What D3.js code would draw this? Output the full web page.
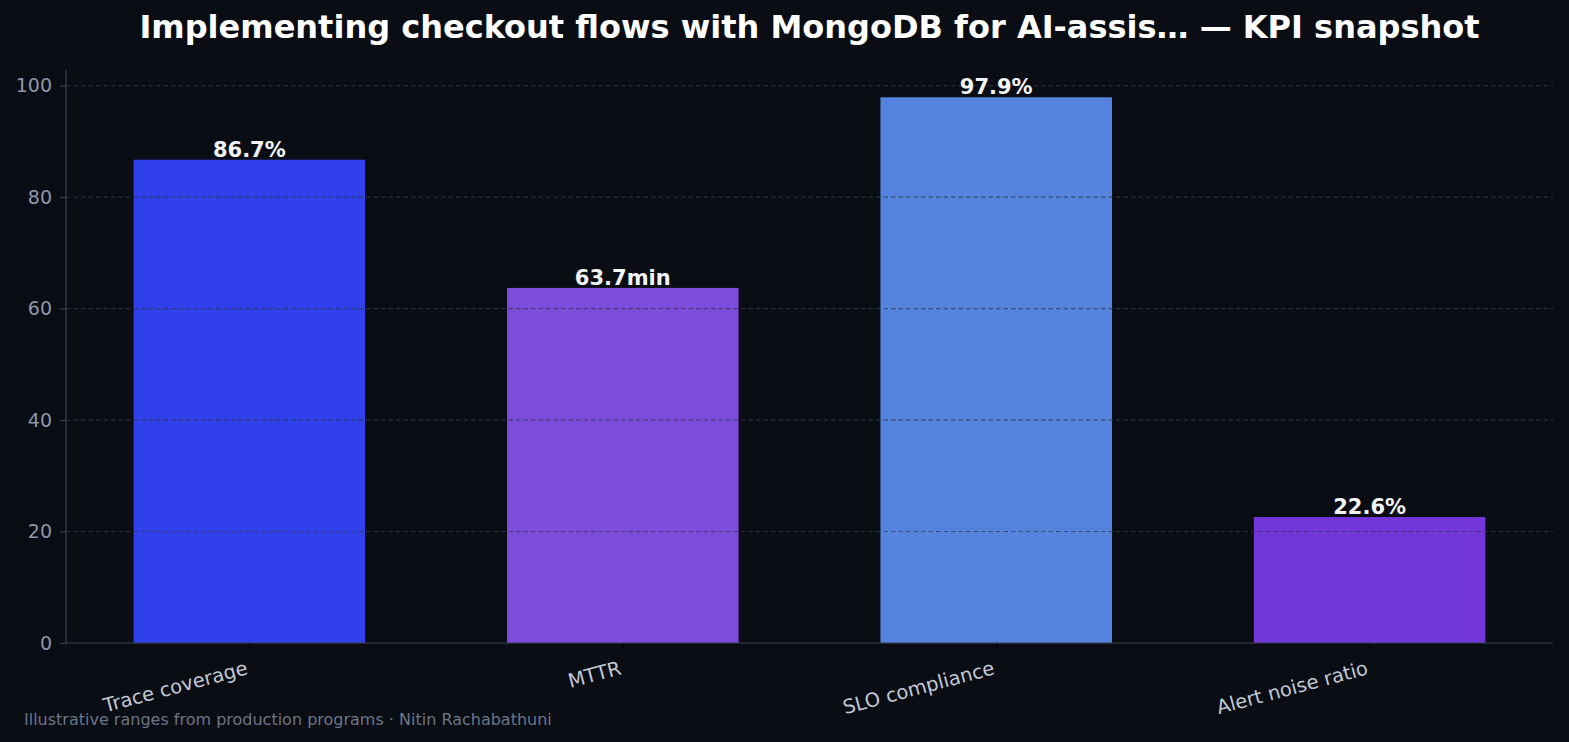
<!DOCTYPE html>
<html lang="en">
<head>
<meta charset="UTF-8">
<title>KPI snapshot</title>
<script src="https://cdn.jsdelivr.net/npm/d3@7"></script>
<style>
    html, body { margin: 0; padding: 0; background: #0a0d14; }
    svg { display: block; font-family: "DejaVu Sans", sans-serif; }
</style>
</head>
<body>
<svg id="chart" width="1569" height="742"></svg>
<script>
    // data
    var categories = ["Trace coverage", "MTTR", "SLO compliance", "Alert noise ratio"];
    var values = [86.7, 63.7, 97.9, 22.6];
    var valueLabels = ["86.7%", "63.7min", "97.9%", "22.6%"];
    var barColors = ["#3040ea", "#7d4cdd", "#5584df", "#7336d9"];
    var yTicks = [0, 20, 40, 60, 80, 100];

    var title = "Implementing checkout flows with MongoDB for AI-assis\u2026 \u2014 KPI snapshot";
    var footer = "Illustrative ranges from production programs \u00b7 Nitin Rachabathuni";

    var svg = d3.select("#chart");
    var plotLeft = 66, plotRight = 1553, plotTop = 70, plotBottom = 643;
    var barW = 0.62;

    var x = d3.scaleLinear()
        .domain([-barW / 2 - 0.181, categories.length - 1 + barW / 2 + 0.181])
        .range([plotLeft, plotRight]);
    var y = d3.scaleLinear()
        .domain([0, d3.max(values) * 1.05])
        .range([plotBottom, plotTop]);

    svg.append("rect").attr("width", 1569).attr("height", 742).attr("fill", "#0a0d14");

    // bars
    svg.selectAll("rect.bar")
        .data(values)
        .enter()
        .append("rect")
        .attr("class", "bar")
        .attr("x", function(d, i) { return x(i - barW / 2); })
        .attr("width", function(d, i) { return x(i + barW / 2) - x(i - barW / 2); })
        .attr("y", function(d) { return y(d); })
        .attr("height", function(d) { return y(0) - y(d); })
        .attr("fill", function(d, i) { return barColors[i]; });

    // grid on top of bars
    svg.selectAll("line.grid")
        .data(yTicks.slice(1))
        .enter()
        .append("line")
        .attr("class", "grid")
        .attr("x1", plotLeft).attr("x2", plotRight)
        .attr("y1", function(d) { return y(d); })
        .attr("y2", function(d) { return y(d); })
        .attr("stroke", "#323a4c")
        .attr("stroke-opacity", 0.75)
        .attr("stroke-width", 1.2)
        .attr("stroke-dasharray", "4.5,3");

    // y axis
    var yAxis = svg.append("g")
        .attr("transform", "translate(" + plotLeft + ",0)")
        .call(d3.axisLeft(y).tickValues(yTicks).tickSize(6).tickPadding(8));
    yAxis.select(".domain").remove();
    yAxis.selectAll(".tick line").attr("stroke", "#3a4252").attr("stroke-width", 1.2);
    yAxis.selectAll(".tick text")
        .attr("fill", "#8c97ab")
        .style("font-size", "19px")
        .style("font-family", "DejaVu Sans, sans-serif");

    // x axis
    var xAxis = svg.append("g")
        .attr("transform", "translate(0," + plotBottom + ")")
        .call(d3.axisBottom(x).tickValues(d3.range(categories.length))
            .tickFormat(function(d) { return categories[d]; })
            .tickSize(5).tickPadding(4));
    xAxis.select(".domain").remove();
    xAxis.selectAll(".tick line").attr("stroke", "#000000").attr("stroke-width", 1.2);
    xAxis.selectAll(".tick text")
        .attr("fill", "#c2c9d6")
        .style("font-size", "19.5px")
        .style("font-family", "DejaVu Sans, sans-serif")
        .attr("text-anchor", "end")
        .attr("dy", null)
        .attr("y", null)
        .attr("transform", "translate(-1,31) rotate(-15)");

    // spines
    svg.append("line")
        .attr("x1", plotLeft).attr("x2", plotLeft).attr("y1", plotTop).attr("y2", plotBottom)
        .attr("stroke", "#3a4252").attr("stroke-width", 1.2);
    svg.append("line")
        .attr("x1", plotLeft).attr("x2", plotRight).attr("y1", plotBottom).attr("y2", plotBottom)
        .attr("stroke", "#3a4252").attr("stroke-width", 1.2);

    // value labels
    svg.selectAll("text.val")
        .data(values)
        .enter()
        .append("text")
        .attr("class", "val")
        .attr("x", function(d, i) { return x(i); })
        .attr("y", function(d) { return y(d) - 3; })
        .attr("text-anchor", "middle")
        .attr("fill", "#f2f4f8")
        .style("font-size", "21px")
        .style("font-weight", "bold")
        .text(function(d, i) { return valueLabels[i]; });

    // title
    svg.append("text")
        .attr("x", (plotLeft + plotRight) / 2)
        .attr("y", 38)
        .attr("text-anchor", "middle")
        .attr("fill", "#ffffff")
        .style("font-size", "32px")
        .style("font-weight", "bold")
        .text(title);

    // footer
    svg.append("text")
        .attr("x", 24)
        .attr("y", 725)
        .attr("fill", "#6b7588")
        .style("font-size", "16px")
        .text(footer);
</script>
</body>
</html>
